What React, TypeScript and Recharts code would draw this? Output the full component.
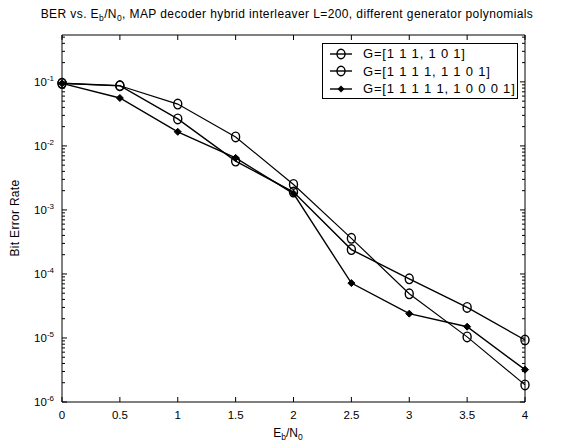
import React from 'react';
import { LineChart, Line, XAxis, YAxis, Legend } from 'recharts';

// Eb/N0 in dB
const ebno = [0, 0.5, 1, 1.5, 2, 2.5, 3, 3.5, 4];
// BER for each generator polynomial
const berG111 = [0.095, 0.087, 0.0264, 0.0058, 0.0019, 2.4e-4, 8.4e-5, 3.0e-5, 9.3e-6];
const berG1111 = [0.095, 0.087, 0.045, 0.0138, 0.0025, 3.6e-4, 4.9e-5, 1.04e-5, 1.85e-6];
const berG11111 = [0.095, 0.056, 0.0166, 0.0065, 0.0018, 7.2e-5, 2.4e-5, 1.5e-5, 3.2e-6];
const seriesNames = ['G=[1 1 1, 1 0 1]', 'G=[1 1 1 1, 1 1 0 1]', 'G=[1 1 1 1 1, 1 0 0 0 1]'];

const xTicks = [0, 0.5, 1, 1.5, 2, 2.5, 3, 3.5, 4];
const xTickLabels = ['0', '0.5', '1', '1.5', '2', '2.5', '3', '3.5', '4'];
const decades = [-6, -5, -4, -3, -2, -1];
const yTop = 0.54;

const data = ebno.map((x, i) => ({ x, a: berG111[i], b: berG1111[i], c: berG11111[i] }));

// major + minor log ticks
const yTicks: number[] = [];
decades.forEach(d => {
  for (let m = 1; m <= 9; m++) {
    const v = m * Math.pow(10, d);
    if (v <= yTop) yTicks.push(v);
  }
});
const isMajor = (v: number) => Math.abs(Math.log10(v) - Math.round(Math.log10(v))) < 1e-6;

const FONT = '"Liberation Sans", Arial, Helvetica, sans-serif';

const CircleDot = (props: any) => {
  const { cx, cy } = props;
  if (cx == null || cy == null) return null;
  return <ellipse cx={cx} cy={cy} rx={4} ry={4.8} fill="none" stroke="#000" strokeWidth={1.4} />;
};

const DiamondDot = (props: any) => {
  const { cx, cy } = props;
  if (cx == null || cy == null) return null;
  return <path d={`M${cx},${cy - 3.5} L${cx + 3.5},${cy} L${cx},${cy + 3.5} L${cx - 3.5},${cy} Z`} fill="#000" stroke="#000" strokeWidth={1} />;
};

const BottomTick = (props: any) => {
  const { x, y, payload } = props;
  const i = xTicks.indexOf(payload.value);
  return (
    <g>
      <line x1={x} y1={y} x2={x} y2={y - 5} stroke="#000" />
      <text x={x} y={y + 17} textAnchor="middle" fontSize={11.5} fontFamily={FONT} fill="#000">{xTickLabels[i]}</text>
    </g>
  );
};

const TopTick = (props: any) => {
  const { x, y } = props;
  return <line x1={x} y1={y} x2={x} y2={y + 5} stroke="#000" />;
};

const LeftTick = (props: any) => {
  const { x, y, payload } = props;
  const major = isMajor(payload.value);
  return (
    <g>
      <line x1={x} y1={y} x2={x + (major ? 5 : 3)} y2={y} stroke="#000" />
      {major && (
        <text x={x - 8} y={y + 4} textAnchor="end" fontSize={11.5} fontFamily={FONT} fill="#000">
          <tspan>10</tspan>
          <tspan dy={-5} fontSize={8}>{Math.round(Math.log10(payload.value))}</tspan>
        </text>
      )}
    </g>
  );
};

const RightTick = (props: any) => {
  const { x, y, payload } = props;
  const major = isMajor(payload.value);
  return <line x1={x} y1={y} x2={x - (major ? 5 : 3)} y2={y} stroke="#000" />;
};

const LegendBox = () => {
  const markers = [
    <ellipse cx={18} cy={8} rx={4} ry={4.8} fill="none" stroke="#000" strokeWidth={1.4} />,
    <ellipse cx={18} cy={8} rx={4} ry={4.8} fill="none" stroke="#000" strokeWidth={1.4} />,
    <path d="M18,4.5 L21.5,8 L18,11.5 L14.5,8 Z" fill="#000" />,
  ];
  return (
    <div style={{ width: 194, height: 53, border: '1px solid #000', background: '#fff', fontFamily: FONT, fontSize: 13, letterSpacing: 0.8, paddingTop: 1, boxSizing: 'content-box', whiteSpace: 'nowrap' }}>
      {seriesNames.map((name, i) => (
        <div key={name} style={{ display: 'flex', alignItems: 'center', height: 17.5 }}>
          <svg width={40} height={16} style={{ flexShrink: 0 }}>
            <line x1={7} y1={8} x2={29} y2={8} stroke="#000" strokeWidth={1.4} />
            {markers[i]}
          </svg>
          <span style={{ color: '#000' }}>{name}</span>
        </div>
      ))}
    </div>
  );
};

const Title = () => (
  <text x={287} y={18} textAnchor="middle" fontSize={12} letterSpacing={0.4} fontFamily={FONT} fill="#000">
    <tspan>BER vs. E</tspan>
    <tspan dy={3} fontSize={8.5}>b</tspan>
    <tspan dy={-3}>/N</tspan>
    <tspan dy={3} fontSize={8.5}>0</tspan>
    <tspan dy={-3}>, MAP decoder  hybrid interleaver L=200, different generator polynomials</tspan>
  </text>
);

const XLabel = () => (
  <text x={288} y={437} textAnchor="middle" fontSize={12} fontFamily={FONT} fill="#000">
    <tspan>E</tspan>
    <tspan dy={3} fontSize={8.5}>b</tspan>
    <tspan dy={-3}>/N</tspan>
    <tspan dy={3} fontSize={8.5}>0</tspan>
  </text>
);

const YLabel = () => (
  <text x={19} y={218} textAnchor="middle" fontSize={12} letterSpacing={0.3} fontFamily={FONT} fill="#000" transform="rotate(-90 19 218)">
    Bit Error Rate
  </text>
);

export default function App() {
  return (
    <div style={{ position: 'absolute', left: 0, top: 0, width: 570, height: 446, background: '#fff' }}>
      <LineChart width={570} height={446} data={data} margin={{ top: 5, right: 5, bottom: 4, left: 2 }}>
        <XAxis
          xAxisId="bottom"
          dataKey="x"
          type="number"
          domain={[0, 4]}
          ticks={xTicks}
          interval={0}
          height={40}
          tickSize={0}
          tickMargin={0}
          tick={<BottomTick />}
          axisLine={{ stroke: '#000' }}
          label={{ content: () => <XLabel /> }}
        />
        <XAxis
          xAxisId="top"
          orientation="top"
          dataKey="x"
          type="number"
          domain={[0, 4]}
          ticks={xTicks}
          interval={0}
          height={30}
          tickSize={0}
          tickMargin={0}
          tick={<TopTick />}
          axisLine={{ stroke: '#000' }}
          label={{ content: () => <Title /> }}
        />
        <YAxis
          yAxisId="left"
          type="number"
          scale="log"
          domain={[1e-6, yTop]}
          allowDataOverflow
          ticks={yTicks}
          interval={0}
          width={60}
          tickSize={0}
          tickMargin={0}
          tick={<LeftTick />}
          axisLine={{ stroke: '#000' }}
          label={{ content: () => <YLabel /> }}
        />
        <YAxis
          yAxisId="right"
          orientation="right"
          type="number"
          scale="log"
          domain={[1e-6, yTop]}
          allowDataOverflow
          ticks={yTicks}
          interval={0}
          width={40}
          tickSize={0}
          tickMargin={0}
          tick={<RightTick />}
          axisLine={{ stroke: '#000' }}
        />
        <Legend
          layout="horizontal"
          verticalAlign="middle"
          align="center"
          content={() => <LegendBox />}
          wrapperStyle={{ position: 'absolute', left: 322, top: 43, width: 196 }}
        />
        <Line xAxisId="bottom" yAxisId="left" dataKey="a" name={seriesNames[0]} stroke="#000" strokeWidth={1.4} dot={<CircleDot />} isAnimationActive={false} />
        <Line xAxisId="bottom" yAxisId="left" dataKey="b" name={seriesNames[1]} stroke="#000" strokeWidth={1.2} dot={<CircleDot />} isAnimationActive={false} />
        <Line xAxisId="bottom" yAxisId="left" dataKey="c" name={seriesNames[2]} stroke="#000" strokeWidth={1.4} dot={<DiamondDot />} isAnimationActive={false} />
      </LineChart>
    </div>
  );
}
